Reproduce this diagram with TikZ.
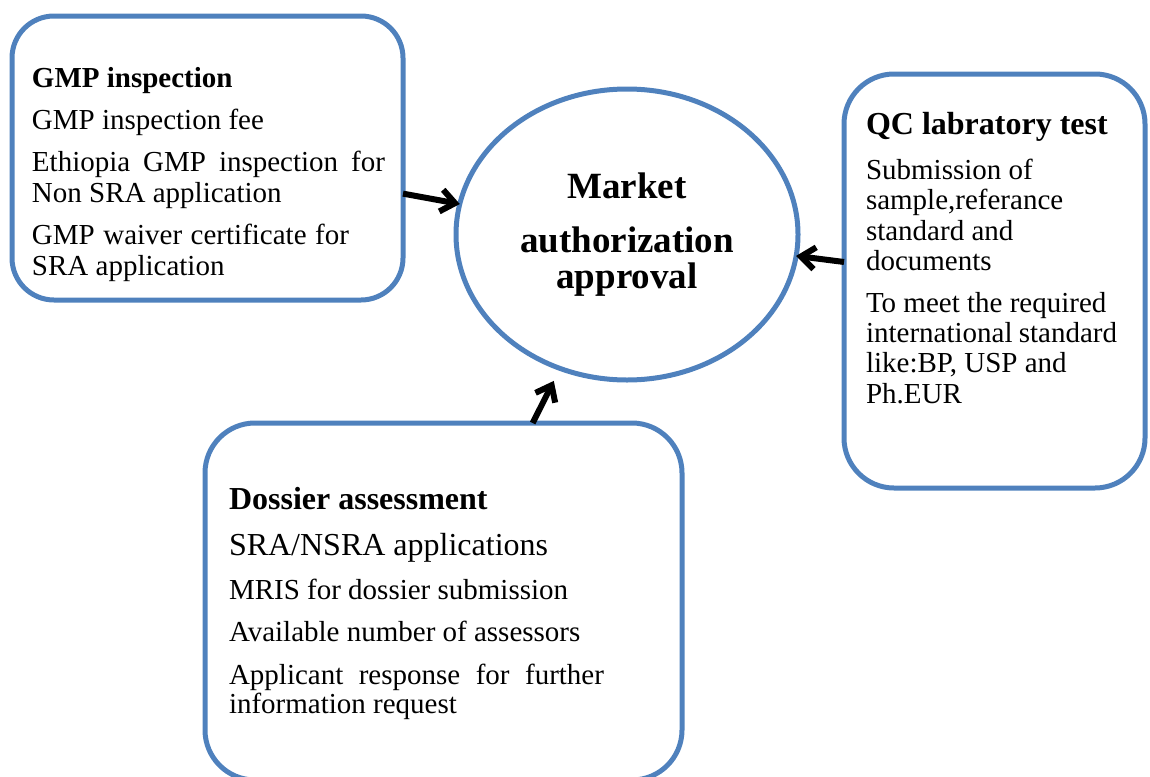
\documentclass[tikz,border=0pt]{standalone}
\usepackage{fontspec}
\setmainfont{Liberation Serif}
\usepackage{tikz}
\usetikzlibrary{shapes.geometric,arrows.meta,positioning}
\definecolor{frameBlue}{RGB}{79,129,189}

\begin{document}
\begin{tikzpicture}[x=0.5pt, y=-0.5pt,
      card/.style={draw=frameBlue, line width=2.5pt, rounded corners=25pt,
                   inner sep=0pt, outer sep=0pt},
      hub/.style={draw=frameBlue, line width=2.5pt, ellipse, inner sep=0pt,
                  outer sep=0pt, align=center,
                  font=\fontsize{18.5}{18}\selectfont\bfseries},
      txt/.style={inner sep=0pt, outer sep=0pt, align=left},
      flow/.style={-{Straight Barb[length=7pt,width=11pt]}, line width=3pt, draw=black}]
    \useasboundingbox (0,0) rectangle (1150,776);
    \node[hub, minimum width=171pt, minimum height=145.5pt] (market) at (627,234.5)
      {Market\\[9pt]authorization\\approval};
    \node[card, rounded corners=21pt, minimum width=195.5pt, minimum height=142pt] (gmp) at (207.5,158) {};
    \node[card, minimum width=150.5pt, minimum height=207pt] (qc) at (994.5,281) {};
    \node[card, minimum width=238.5pt, minimum height=178.5pt] (dossier) at (443.5,601.5) {};
    \node[txt, font=\fontsize{14.5}{15.5}\selectfont, below right=25.5pt and 10pt of gmp.north west] (gmpText)
      {\textbf{GMP inspection}\\[5.5pt]
       GMP inspection fee\\[5.5pt]
       \makebox[176.5pt][s]{Ethiopia GMP inspection for}\\ Non SRA application\\[5.5pt]
       \makebox[158.5pt][s]{GMP waiver certificate for}\\ SRA application};
    \node[txt, font=\fontsize{14.5}{15.2}\selectfont, below right=19pt and 11pt of qc.north west] (qcText)
      {{\fontsize{16}{15.2}\selectfont\bfseries QC labratory test}\\[7.3pt]
       Submission of\\ sample,referance\\ standard and\\ documents\\[5.65pt]
       To meet the required\\ \makebox[125.5pt][s]{international standard}\\ like:BP, USP and\\ Ph.EUR};
    \node[txt, font=\fontsize{14.5}{14.65}\selectfont, below right=32pt and 12pt of dossier.north west] (dossierText)
      {{\fontsize{16}{14.65}\selectfont\bfseries Dossier assessment}\\[8.35pt]
       {\fontsize{16}{14.65}\selectfont SRA/NSRA applications}\\[7.35pt]
       MRIS for dossier submission\\[6.7pt]
       Available number of assessors\\[6.5pt]
       \makebox[187.5pt][s]{Applicant response for further}\\ information request};
    \draw[flow] (gmp) -- (market);
    \draw[flow] (qc) -- (market);
    \draw[flow, shorten >=7pt] (dossier) -- (market);
  \end{tikzpicture}
\end{document}
